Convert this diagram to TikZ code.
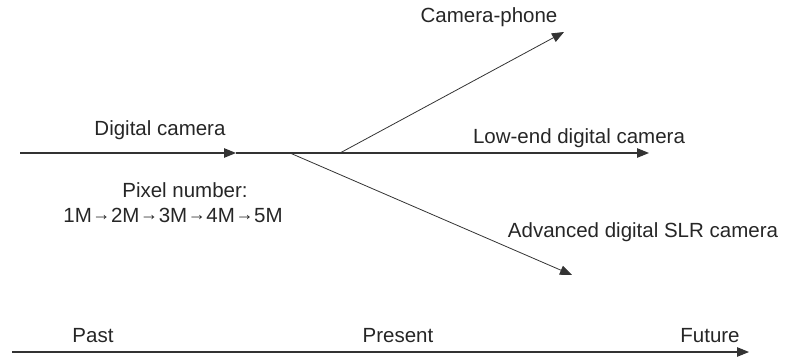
\documentclass[tikz,border=0pt]{standalone}
\usepackage{fontspec}
\setmainfont{Liberation Sans}
\usetikzlibrary{arrows.meta}
\newcommand{\pxarr}{\hspace{0.6pt}\raisebox{1.5pt}{\fontsize{18}{20}\selectfont→}\hspace{0.6pt}}
\begin{document}
\begin{tikzpicture}[x=1pt,y=-1pt,
  lbl/.style={inner sep=0pt,font=\fontsize{20.5}{24}\selectfont,text=black!85},
  ln/.style={draw=black!80,line width=1.1pt},
  tip/.style={-{Triangle[length=12pt,width=9.5pt]}}]
\useasboundingbox (0,0) rectangle (786,358);
% main line
\coordinate (s) at (20,153);
\coordinate (m) at (236,153);
\coordinate (b1) at (290,153);
\coordinate (b2) at (340,153);
\coordinate (e) at (649,153);
\coordinate (up) at (564,32);
\coordinate (dn) at (572,275);
\draw[ln,tip] (s) -- (m);
\draw[ln,tip] (m) -- (e);
\draw[ln,line width=0.8pt,tip] (b2) -- (up);
\draw[ln,line width=0.8pt,tip] (b1) -- (dn);
% labels
\node[lbl] (dc) at (160,130) {Digital camera};
\node[lbl] (pn) at (185,190) {Pixel number:};
\node[lbl] (px) at (173,215) {1M\pxarr 2M\pxarr 3M\pxarr 4M\pxarr 5M};
\node[lbl] (cp) at (489,17) {Camera-phone};
\node[lbl] (le) at (579,138) {Low-end digital camera};
\node[lbl] (ad) at (643,232) {Advanced digital SLR camera};
% timeline
\coordinate (ts) at (12,352);
\coordinate (te) at (749,352);
\draw[ln,tip] (ts) -- (te);
\node[lbl] (pa) at (93,336) {Past};
\node[lbl] (pr) at (398,336) {Present};
\node[lbl] (fu) at (710,336) {Future};
\end{tikzpicture}
\end{document}
